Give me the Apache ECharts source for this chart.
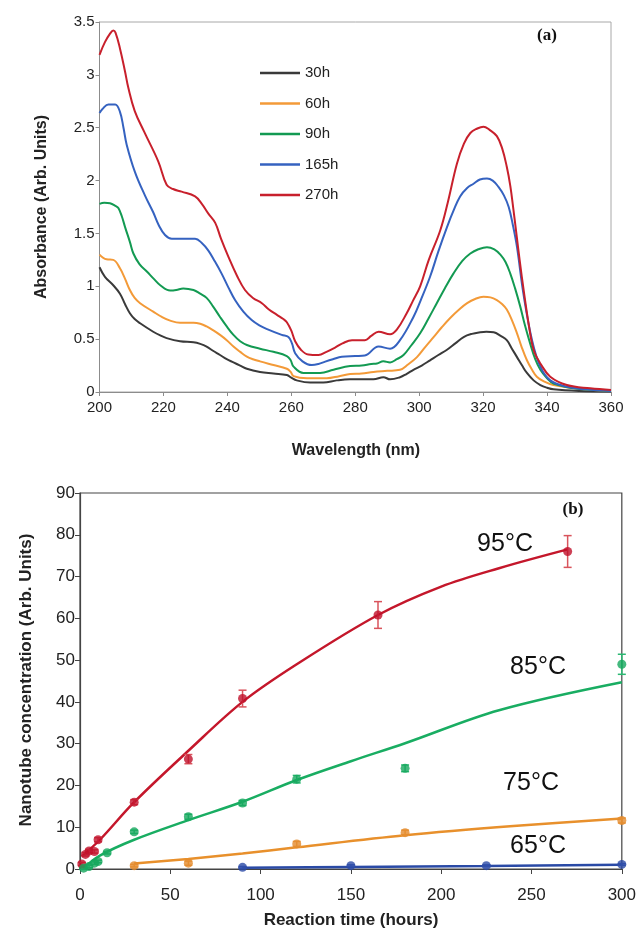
<!DOCTYPE html>
<html>
<head>
<meta charset="utf-8">
<title>Absorbance and nanotube concentration</title>
<script src="https://cdn.jsdelivr.net/npm/echarts/dist/echarts.min.js"></script>
<style>
  body { margin: 0; background: #fff; }
  #chart { width: 639px; height: 937px; }
</style>
</head>
<body>
<div id="chart"></div>
<script>
// (a) absorbance spectra, [wavelength nm, absorbance]
var abs30h = [[200,1.18],[201.7,1.09],[204.3,1.01],[206.4,0.93],[208,0.83],[209.5,0.745],[211,0.69],[212.7,0.65],[216.8,0.57],[219,0.535],[221,0.51],[225.2,0.48],[229.4,0.47],[231.5,0.455],[233.5,0.43],[235.5,0.39],[237.7,0.35],[239.8,0.31],[241.9,0.28],[244,0.25],[246.1,0.22],[250.2,0.19],[254.4,0.175],[258.6,0.16],[260,0.135],[261.7,0.11],[265.9,0.09],[270,0.09],[274.2,0.11],[278.4,0.12],[282,0.12],[285.7,0.12],[288.8,0.14],[290.9,0.12],[294,0.14],[296,0.17],[298.2,0.21],[300.8,0.25],[303.4,0.30],[306,0.35],[308.7,0.40],[311.3,0.46],[313.9,0.52],[316.5,0.55],[319.1,0.565],[321,0.57],[323.3,0.565],[325.5,0.53],[327.4,0.49],[329,0.41],[330.6,0.33],[332.2,0.25],[333.7,0.18],[335.8,0.11],[337.9,0.066],[340,0.04],[342,0.025],[350,0.01],[360,0.005]];
var abs60h = [[200,1.30],[202.2,1.255],[204.3,1.25],[206.4,1.17],[208,1.07],[209.5,0.965],[211,0.89],[212.7,0.84],[216.8,0.76],[219.5,0.71],[222.1,0.675],[225.2,0.655],[229.4,0.655],[231.5,0.645],[233.5,0.62],[235.5,0.585],[237.7,0.54],[239.8,0.49],[241.9,0.43],[244,0.38],[246.1,0.335],[248,0.31],[250.2,0.29],[254.4,0.255],[258.6,0.22],[259.8,0.19],[260.7,0.15],[264.9,0.13],[271.1,0.13],[275,0.15],[278.4,0.17],[282,0.175],[285.7,0.19],[290,0.2],[294,0.21],[296.5,0.26],[299.3,0.33],[302,0.43],[304.5,0.52],[307,0.61],[309.7,0.70],[312.5,0.78],[315,0.84],[317.5,0.88],[320.1,0.90],[322.3,0.895],[324.3,0.87],[326,0.83],[327.4,0.78],[329,0.68],[330.6,0.555],[332,0.43],[333.7,0.30],[335.3,0.21],[336.8,0.145],[339,0.1],[342,0.066],[350,0.03],[360,0.01]];
var abs90h = [[200,1.78],[201.5,1.79],[203.3,1.785],[205,1.76],[205.9,1.74],[207,1.66],[208,1.56],[209.5,1.42],[210.6,1.31],[212.5,1.21],[214.8,1.14],[217,1.07],[219,1.01],[222.1,0.96],[224,0.965],[226.2,0.98],[229.4,0.965],[231.5,0.93],[233.5,0.89],[235.5,0.81],[237.7,0.71],[239.8,0.62],[241.9,0.54],[244,0.48],[246.1,0.445],[250.2,0.41],[254.4,0.38],[258.6,0.34],[259.8,0.30],[260.7,0.24],[263.8,0.18],[269,0.18],[273.2,0.21],[278.4,0.245],[282,0.25],[285,0.265],[286.8,0.27],[288.8,0.29],[290.9,0.28],[293,0.31],[295.1,0.35],[297.5,0.44],[300.3,0.555],[303,0.70],[305.5,0.84],[308,0.98],[310.7,1.12],[313.5,1.24],[316,1.31],[318.5,1.35],[321.2,1.37],[323.5,1.35],[325.4,1.30],[327,1.23],[328.5,1.12],[330,0.98],[331.6,0.81],[333,0.64],[334.7,0.46],[336.3,0.31],[337.9,0.21],[340,0.13],[342,0.08],[348.3,0.035],[355,0.02],[360,0.01]];
var abs165h = [[200,2.64],[201,2.68],[202.8,2.72],[204.9,2.72],[206.4,2.65],[207.5,2.5],[208.5,2.34],[211.1,2.08],[214.2,1.86],[216.8,1.70],[218.5,1.58],[220.5,1.485],[222.6,1.45],[229.9,1.45],[232,1.41],[234,1.34],[236,1.24],[238.2,1.12],[240.3,0.99],[242.4,0.87],[245,0.76],[247.6,0.68],[250,0.63],[252.8,0.59],[257,0.54],[259.1,0.52],[260.2,0.46],[261.2,0.366],[263.5,0.29],[266.4,0.255],[268.5,0.265],[270.6,0.287],[273,0.31],[275.8,0.334],[280,0.34],[283,0.345],[287.3,0.43],[290.9,0.41],[294,0.49],[298.2,0.71],[300.5,0.87],[303.4,1.09],[306,1.33],[308.7,1.56],[310.8,1.72],[312.8,1.85],[315,1.93],[317,1.97],[319,2.01],[321.2,2.02],[323,2.0],[324.8,1.94],[326.5,1.86],[328,1.75],[329.3,1.58],[330.6,1.37],[332.6,0.93],[335.3,0.49],[337.9,0.24],[341,0.11],[346.2,0.05],[352,0.025],[360,0.01]];
var abs270h = [[200,3.19],[201.7,3.31],[203.3,3.39],[204.3,3.42],[205,3.40],[206.4,3.25],[208,3.03],[209,2.88],[211,2.66],[214,2.46],[218.4,2.18],[221,1.96],[223,1.92],[225.7,1.895],[229.9,1.85],[232,1.78],[234,1.69],[236.2,1.60],[238,1.45],[240.3,1.28],[243,1.10],[245.5,0.965],[248,0.89],[250.8,0.84],[253,0.78],[255.5,0.73],[257.5,0.69],[258.6,0.66],[260,0.58],[261.2,0.48],[263,0.40],[265.3,0.355],[268.5,0.35],[271,0.38],[273.7,0.42],[276,0.46],[279,0.49],[283,0.49],[285,0.53],[287.3,0.57],[290.9,0.546],[293,0.59],[296.1,0.745],[298,0.86],[300.3,1.0],[303,1.25],[306.6,1.53],[309,1.8],[311.8,2.16],[314,2.35],[316,2.45],[318,2.49],[320.1,2.51],[322,2.48],[324.3,2.42],[326,2.3],[327.4,2.13],[328.5,1.95],[329.5,1.72],[332.1,1.09],[334.7,0.555],[336,0.38],[337.9,0.27],[341,0.145],[346.2,0.066],[353.5,0.035],[360,0.02]];

// (b) measured points: hours, concentration, error
var hours95 = [1, 3, 5, 8, 10, 30, 60, 90, 165, 270];
var conc95 = [1.2, 3.5, 4.3, 4.2, 7, 16, 26.3, 40.8, 60.8, 76];
var err95 = [0.4, 0.4, 0.4, 0.4, 0.5, 0.6, 1.1, 2, 3.2, 3.8];
var hours85 = [2, 5, 8, 10, 15, 30, 60, 90, 120, 180, 300];
var conc85 = [0.2, 0.6, 1.4, 1.8, 3.9, 8.9, 12.5, 15.8, 21.5, 24.1, 49];
var err85 = [0.3, 0.3, 0.3, 0.3, 0.3, 0.4, 0.6, 0.6, 0.9, 0.8, 2.4];
var hours75 = [30, 60, 120, 180, 300];
var conc75 = [0.8, 1.4, 6.0, 8.7, 11.6];
var err75 = [0.3, 0.5, 0.6, 0.6, 0.6];
var hours65 = [90, 150, 225, 300];
var conc65 = [0.4, 0.8, 0.8, 1.1];
var err65 = [0.2, 0.2, 0.2, 0.2];

// (b) fitted curves
var fit95 = [[1,3],[11,7],[30,16],[60,28.3],[90,40],[120,49],[165,60.8],[200,67.6],[232,72],[270,76.5]];
var fit85 = [[2,0.2],[11,3.2],[30,7],[60,11.7],[90,16.1],[120,21.3],[150,25.8],[180,30.1],[232,38],[300,44.7]];
var fit75 = [[30,1.3],[60,2.4],[90,3.7],[120,5.2],[180,8.1],[240,10.3],[300,12.1]];
var fit65 = [[90,0.3],[150,0.5],[225,0.7],[300,1.0]];

var FONT = "'Liberation Sans', Arial, sans-serif";
var myChart = echarts.init(document.getElementById('chart'));

function spectrum(name, data, color) {
  return {
    name: name, type: 'line', xAxisIndex: 0, yAxisIndex: 0,
    data: data, showSymbol: false, smooth: 0.4,
    lineStyle: { color: color, width: 2 }, itemStyle: { color: color }
  };
}

function pts(x, y) {
  return x.map(function (v, i) { return [v, y[i]]; });
}

function bars(x, y, e) {
  return x.map(function (v, i) { return [v, y[i] - e[i], y[i] + e[i]]; });
}

function errorSeries(x, y, e, color) {
  return {
    type: 'custom', xAxisIndex: 1, yAxisIndex: 1, clip: false, z: 3,
    data: bars(x, y, e),
    renderItem: function (params, api) {
      var lo = api.coord([api.value(0), api.value(1)]);
      var hi = api.coord([api.value(0), api.value(2)]);
      var w = 4;
      var st = { stroke: color, lineWidth: 1.5 };
      return {
        type: 'group',
        children: [
          { type: 'line', shape: { x1: lo[0], y1: lo[1], x2: hi[0], y2: hi[1] }, style: st },
          { type: 'line', shape: { x1: lo[0] - w, y1: lo[1], x2: lo[0] + w, y2: lo[1] }, style: st },
          { type: 'line', shape: { x1: hi[0] - w, y1: hi[1], x2: hi[0] + w, y2: hi[1] }, style: st }
        ]
      };
    }
  };
}

function fitSeries(data, color) {
  return {
    type: 'line', xAxisIndex: 1, yAxisIndex: 1, data: data, showSymbol: false,
    smooth: 0.35, lineStyle: { color: color, width: 2.5 }, z: 2
  };
}

function dotSeries(x, y, color) {
  return {
    type: 'scatter', xAxisIndex: 1, yAxisIndex: 1, data: pts(x, y), clip: false,
    symbolSize: 9, itemStyle: { color: color }, z: 4
  };
}

var option = {
  animation: false,
  color: ['#3a3a3a', '#f39a38', '#139a52', '#3562c0', '#c8202c'],
  grid: [
    { left: 99.5, top: 22, width: 511.5, height: 370, show: true, borderColor: '#a8a8a8', borderWidth: 1, backgroundColor: '#fff' },
    { left: 80, top: 493, width: 542, height: 376, show: true, borderColor: '#444', borderWidth: 1.2, backgroundColor: '#fff' }
  ],
  legend: {
    data: ['30h', '60h', '90h', '165h', '270h'],
    orient: 'vertical', left: 255, top: 60,
    icon: 'rect', itemWidth: 40, itemHeight: 2.5, itemGap: 14.5,
    textStyle: { fontFamily: FONT, fontSize: 15, color: '#222', lineHeight: 16 }
  },
  xAxis: [
    {
      gridIndex: 0, type: 'value', min: 200, max: 360, interval: 20,
      axisLine: { lineStyle: { color: '#8c8c8c' } },
      axisTick: { length: 4, lineStyle: { color: '#8c8c8c' } },
      axisLabel: { fontFamily: FONT, fontSize: 15, color: '#222', margin: 8 },
      splitLine: { show: false }
    },
    {
      gridIndex: 1, type: 'value', min: 0, max: 300, interval: 50,
      axisLine: { lineStyle: { color: '#444', width: 1.2 } },
      axisTick: { length: 5, lineStyle: { color: '#444' } },
      axisLabel: { fontFamily: FONT, fontSize: 17, color: '#222', margin: 18 },
      splitLine: { show: false }
    }
  ],
  yAxis: [
    {
      gridIndex: 0, type: 'value', min: 0, max: 3.5, interval: 0.5,
      axisLine: { show: true, lineStyle: { color: '#8c8c8c' } },
      axisTick: { show: true, length: 4, lineStyle: { color: '#8c8c8c' } },
      axisLabel: { fontFamily: FONT, fontSize: 15, color: '#222', margin: 5 },
      splitLine: { show: false }
    },
    {
      gridIndex: 1, type: 'value', min: 0, max: 90, interval: 10,
      axisLine: { show: true, lineStyle: { color: '#444', width: 1.2 } },
      axisTick: { show: true, length: 5, lineStyle: { color: '#444' } },
      axisLabel: { fontFamily: FONT, fontSize: 17, color: '#222', margin: 5 },
      splitLine: { show: false }
    }
  ],
  series: [
    spectrum('30h', abs30h, '#3a3a3a'),
    spectrum('60h', abs60h, '#f39a38'),
    spectrum('90h', abs90h, '#139a52'),
    spectrum('165h', abs165h, '#3562c0'),
    spectrum('270h', abs270h, '#c8202c'),
    fitSeries(fit95, '#c4172b'),
    fitSeries(fit85, '#19ad62'),
    fitSeries(fit75, '#e8902c'),
    fitSeries(fit65, '#2a4aa6'),
    errorSeries(hours95, conc95, err95, '#d9545c'),
    errorSeries(hours85, conc85, err85, '#2bb872'),
    errorSeries(hours75, conc75, err75, '#eba04a'),
    errorSeries(hours65, conc65, err65, '#4a66b8'),
    dotSeries(hours95, conc95, '#c0102a'),
    dotSeries(hours85, conc85, '#17a85e'),
    dotSeries(hours75, conc75, '#e3892a'),
    dotSeries(hours65, conc65, '#2a4aa6')
  ],
  graphic: [
    { type: 'text', x: 547, y: 36, style: { text: '(a)', font: "bold 17px 'Liberation Serif', 'Times New Roman', serif", fill: '#111', align: 'center', verticalAlign: 'middle' } },
    { type: 'text', x: 573, y: 510, style: { text: '(b)', font: "bold 17px 'Liberation Serif', 'Times New Roman', serif", fill: '#111', align: 'center', verticalAlign: 'middle' } },
    { type: 'text', x: 42, y: 207, rotation: Math.PI / 2, style: { text: 'Absorbance (Arb. Units)', font: "bold 16px " + FONT, fill: '#222', align: 'center', verticalAlign: 'middle' } },
    { type: 'text', x: 356, y: 451, style: { text: 'Wavelength (nm)', font: "bold 16px " + FONT, fill: '#222', align: 'center', verticalAlign: 'middle' } },
    { type: 'text', x: 26, y: 680, rotation: Math.PI / 2, style: { text: 'Nanotube concentration (Arb. Units)', font: "bold 17px " + FONT, fill: '#222', align: 'center', verticalAlign: 'middle' } },
    { type: 'text', x: 351, y: 920, style: { text: 'Reaction time (hours)', font: "bold 17px " + FONT, fill: '#222', align: 'center', verticalAlign: 'middle' } },
    { type: 'text', x: 505, y: 544, style: { text: '95°C', font: "25px " + FONT, fill: '#111', align: 'center', verticalAlign: 'middle' } },
    { type: 'text', x: 538, y: 667, style: { text: '85°C', font: "25px " + FONT, fill: '#111', align: 'center', verticalAlign: 'middle' } },
    { type: 'text', x: 531, y: 783, style: { text: '75°C', font: "25px " + FONT, fill: '#111', align: 'center', verticalAlign: 'middle' } },
    { type: 'text', x: 538, y: 846, style: { text: '65°C', font: "25px " + FONT, fill: '#111', align: 'center', verticalAlign: 'middle' } }
  ]
};

myChart.setOption(option);
</script>
</body>
</html>
